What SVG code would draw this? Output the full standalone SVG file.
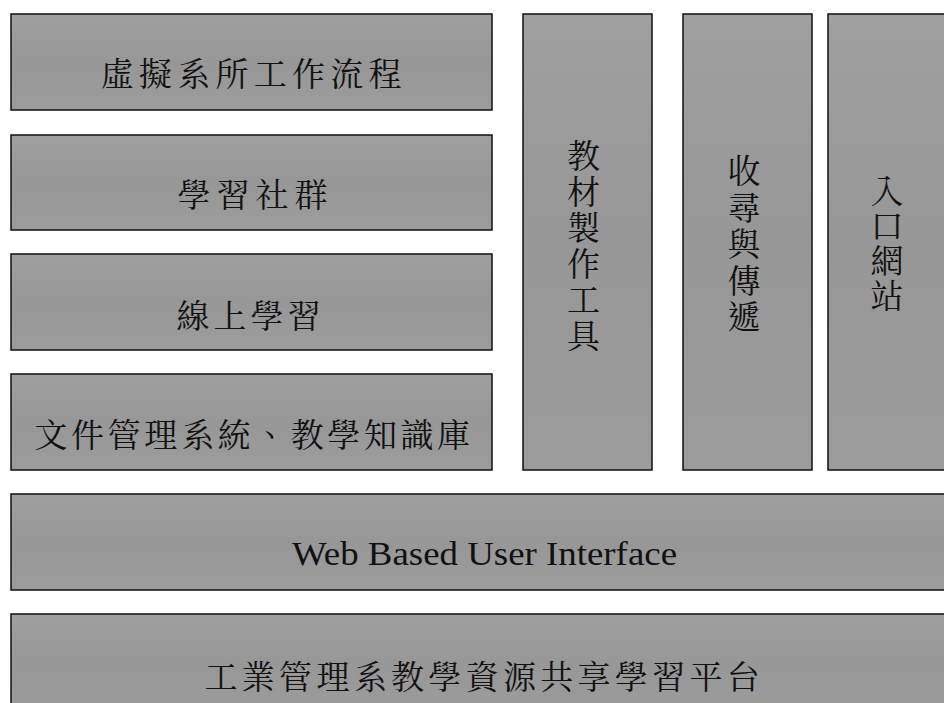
<svg xmlns="http://www.w3.org/2000/svg" width="944" height="703" viewBox="0 0 944 703">
  <defs>
    <linearGradient id="boxFill" x1="0" y1="0" x2="0" y2="1">
      <stop offset="0" stop-color="#a0a0a0"/>
      <stop offset="0.5" stop-color="#979797"/>
      <stop offset="1" stop-color="#9c9c9c"/>
    </linearGradient>
    <style>
      .box { fill: url(#boxFill); stroke: #111; stroke-width: 1.5; }
      .zh { font-family: "Noto Serif CJK TC", "Noto Sans CJK TC", serif; font-size: 33px; fill: #111; text-anchor: middle; }
      .en { font-size: 34px; fill: #111; }
    </style>
  </defs>
  <rect width="944" height="703" fill="#fff"/>

  <!-- left stack of modules -->
  <g id="workflow">
    <rect class="box" x="11" y="14" width="481" height="96"/>
    <text class="zh" x="117 155.3 193.6 231.9 270.2 308.5 346.8 385.1" y="86">虛擬系所工作流程</text>
  </g>
  <g id="community">
    <rect class="box" x="11" y="135" width="481" height="95"/>
    <text class="zh" x="194 233 272 311" y="207">學習社群</text>
  </g>
  <g id="elearning">
    <rect class="box" x="11" y="254" width="481" height="96"/>
    <text class="zh" x="193 230 267 304" y="328">線上學習</text>
  </g>
  <g id="docs">
    <rect class="box" x="11" y="374" width="481" height="96"/>
    <text class="zh" x="51 87.6 124.2 160.8 197.4 234 270.6 307.2 343.8 380.4 417 453.6" y="447">文件管理系統、教學知識庫</text>
  </g>

  <!-- vertical tool columns -->
  <g id="authoring">
    <rect class="box" x="523" y="14" width="129" height="456"/>
    <text class="zh" x="583.5 583.5 583.5 583.5 583.5 583.5" y="168 204 240 276 312 348">教材製作工具</text>
  </g>
  <g id="search">
    <rect class="box" x="683" y="14" width="129" height="456"/>
    <text class="zh" x="744 744 744 744 744" y="183 219.5 256 292.5 329">收尋與傳遞</text>
  </g>
  <g id="portal">
    <rect class="box" x="828" y="14" width="130" height="456"/>
    <text class="zh" x="887 887 887 887" y="203 238 273 308">入口網站</text>
  </g>

  <!-- base layers -->
  <g id="web-ui">
    <rect class="box" x="11" y="494" width="947" height="96"/>
    <text class="en" font-family="'Liberation Serif', 'Times New Roman', serif" x="292" y="565" textLength="385" lengthAdjust="spacingAndGlyphs">Web Based User Interface</text>
  </g>
  <g id="platform">
    <rect class="box" x="11" y="614" width="947" height="100"/>
    <text class="zh" x="221 258.3 295.6 332.9 370.2 407.5 444.8 482.1 519.4 556.7 594 631.3 668.6 705.9 743.2" y="689">工業管理系教學資源共享學習平台</text>
  </g>

  <g id="connectors"/>
</svg>
